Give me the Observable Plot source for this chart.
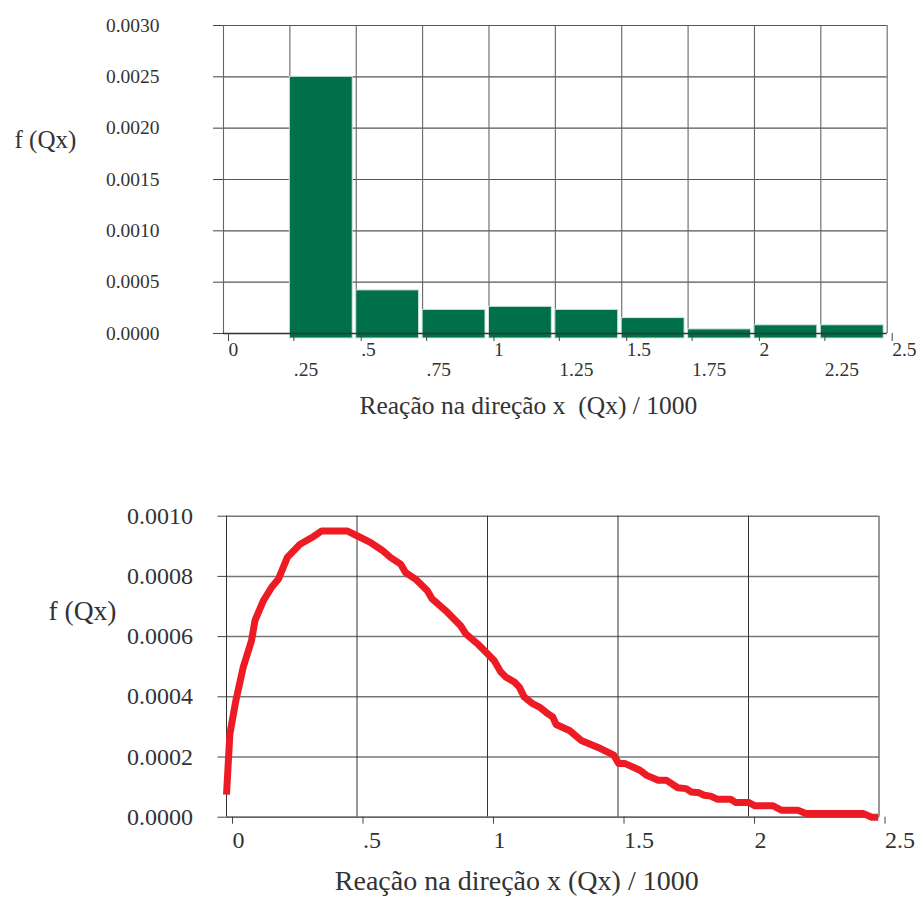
<!DOCTYPE html>
<html>
<head>
<meta charset="utf-8">
<script src="https://cdn.jsdelivr.net/npm/d3@7"></script>
<script src="https://cdn.jsdelivr.net/npm/@observablehq/plot@0.6"></script>
<style>
  html, body { margin: 0; padding: 0; background: #fff; }
  #wrap { position: relative; width: 918px; height: 898px; overflow: hidden; }
  #top, #bottom { position: absolute; left: 0; }
  #top { top: 0; }
  #bottom { top: 420px; }
</style>
</head>
<body>
<div id="wrap"><div id="top"></div><div id="bottom"></div></div>
<script>
// ---------- Data: top histogram ----------
const binLo   = [0.25, 0.5, 0.75, 1.0, 1.25, 1.5, 1.75, 2.0, 2.25];
const binHi   = [0.5, 0.75, 1.0, 1.25, 1.5, 1.75, 2.0, 2.25, 2.5];
const binDens = [0.0025, 0.00042, 0.00023, 0.00026, 0.00023, 0.00015, 0.00004, 0.00008, 0.00008];
const topYTicks = [0, 0.0005, 0.001, 0.0015, 0.002, 0.0025, 0.003];
const topXMajor = [0, 0.5, 1, 1.5, 2, 2.5];
const topXMinor = [0.25, 0.75, 1.25, 1.75, 2.25];
const topXGrid  = [0, 0.25, 0.5, 0.75, 1, 1.25, 1.5, 1.75, 2, 2.25, 2.5];

// ---------- Data: bottom density curve ----------
const curveX = [0.000, 0.013, 0.036, 0.064, 0.096, 0.109, 0.141, 0.173, 0.199, 0.233,
  0.282, 0.327, 0.365, 0.462, 0.500, 0.551, 0.596, 0.628, 0.667, 0.686,
  0.724, 0.769, 0.788, 0.846, 0.897, 0.917, 0.962, 1.000, 1.026, 1.051,
  1.071, 1.103, 1.122, 1.141, 1.173, 1.199, 1.231, 1.250, 1.263, 1.314,
  1.359, 1.433, 1.484, 1.503, 1.528, 1.584, 1.610, 1.654, 1.685, 1.729,
  1.761, 1.780, 1.811, 1.830, 1.855, 1.880, 1.931, 1.950, 2.000, 2.025,
  2.094, 2.126, 2.189, 2.220, 2.441, 2.472, 2.497];
const curveY = [0.000075, 0.000277, 0.000388, 0.000498, 0.000587, 0.000653, 0.000719, 0.000764, 0.000791, 0.000863,
  0.000907, 0.000929, 0.000951, 0.000951, 0.000935, 0.000913, 0.000887, 0.000863, 0.000841, 0.000813,
  0.000791, 0.000753, 0.000725, 0.000681, 0.000636, 0.000609, 0.000576, 0.000543, 0.000520, 0.000482,
  0.000465, 0.000449, 0.000432, 0.000399, 0.000377, 0.000366, 0.000344, 0.000333, 0.000308, 0.000288,
  0.000255, 0.000228, 0.000206, 0.000178, 0.000178, 0.000156, 0.000139, 0.000123, 0.000123, 0.000098,
  0.000095, 0.000084, 0.000081, 0.000073, 0.000070, 0.000060, 0.000060, 0.000049, 0.000049, 0.000038,
  0.000038, 0.000023, 0.000023, 0.000012, 0.000012, 0.000000, 0.000000];
const botYTicks = [0, 0.0002, 0.0004, 0.0006, 0.0008, 0.001];
const botXTicks = [0, 0.5, 1, 1.5, 2, 2.5];

const yLabel = "f (Qx)";
const xTitleTop = "Reação na direção x  (Qx) / 1000";
const xTitleBottom = "Reação na direção x (Qx) / 1000";

// ---------- helpers ----------
const bars = binLo.map((lo, i) => ({lo, hi: binHi[i], v: binDens[i]}));
const curve = curveX.map((x, i) => ({x, y: curveY[i]}));
const fmtX = d => d === 0 ? "0" : String(d).replace(/^0\./, ".");
const fmtY = d3.format(".4f");
const FONT = "'Liberation Serif', 'Times New Roman', Times, serif";

// ---------- top chart ----------
const topPlot = Plot.plot({
  width: 918,
  height: 420,
  marginLeft: 223,
  marginRight: 31.3,
  marginTop: 25,
  marginBottom: 87,
  style: {fontFamily: FONT, fontSize: "19.5px", color: "#333", background: "white", overflow: "visible"},
  x: {domain: [0, 2.5], label: null},
  y: {domain: [0, 0.003], label: null},
  marks: [
    Plot.gridY({ticks: topYTicks, stroke: "#555", strokeOpacity: 1, strokeWidth: 1.1}),
    Plot.gridX({ticks: topXGrid, stroke: "#666", strokeOpacity: 1, strokeWidth: 1.1}),
    Plot.rect(bars, {x1: "lo", x2: "hi", y1: () => 0, y2: "v", fill: "#00704A",
      stroke: "#cfe6d8", strokeWidth: 1, insetRight: 3.5, insetBottom: -5}),
    Plot.ruleY([0], {stroke: "#333", strokeWidth: 1.3}),
    Plot.axisY({ticks: topYTicks, tickFormat: fmtY, tickSize: 10, tickPadding: 54,
      stroke: "#444", fontSize: 19.5, label: null}),
    Plot.axisX({ticks: topXMajor, tickFormat: fmtX, tickSize: 8, tickPadding: 1,
      textAnchor: "start", dx: 5, stroke: "#444", fontSize: 19.5, label: null}),
    Plot.axisX({ticks: topXMinor, tickFormat: fmtX, tickSize: 8, tickPadding: 21,
      textAnchor: "start", dx: 4, stroke: "#444", fontSize: 19.5, label: null}),
    Plot.text([yLabel], {frameAnchor: "left", textAnchor: "start", lineAnchor: "middle",
      dx: -209, dy: -40, fontSize: 25, fill: "#333"}),
    Plot.text([xTitleTop], {frameAnchor: "bottom", textAnchor: "middle", lineAnchor: "bottom",
      dx: -27, dy: 80, fontSize: 25.5, fill: "#333"})
  ]
});
document.getElementById("top").appendChild(topPlot);

// ---------- bottom chart ----------
const botPlot = Plot.plot({
  width: 918,
  height: 478,
  marginLeft: 226,
  marginRight: 39.5,
  marginTop: 95.7,
  marginBottom: 81.3,
  style: {fontFamily: FONT, fontSize: "24px", color: "#333", background: "white", overflow: "visible"},
  x: {domain: [0, 2.5], label: null},
  y: {domain: [0, 0.001], label: null},
  marks: [
    Plot.gridY({ticks: botYTicks, stroke: "#777", strokeOpacity: 1, strokeWidth: 1.5}),
    Plot.gridX({ticks: botXTicks, stroke: "#333", strokeOpacity: 1, strokeWidth: 1}),
    Plot.ruleY([0], {stroke: "#666", strokeWidth: 1.5}),
    Plot.line(curve, {x: "x", y: "y", stroke: "#ED1C24", strokeWidth: 7,
      strokeLinejoin: "round", strokeLinecap: "butt"}),
    Plot.axisY({ticks: botYTicks, tickFormat: fmtY, tickSize: 8.5, tickPadding: 25,
      stroke: "#444", fontSize: 24, label: null}),
    Plot.axisX({ticks: botXTicks, tickFormat: fmtX, tickSize: 7, tickPadding: 7,
      textAnchor: "start", dx: 6, stroke: "#444", fontSize: 24, label: null}),
    Plot.text([yLabel], {frameAnchor: "left", textAnchor: "start", lineAnchor: "middle",
      dx: -178, dy: -56, fontSize: 27.5, fill: "#333"}),
    Plot.text([xTitleBottom], {frameAnchor: "bottom", textAnchor: "middle", lineAnchor: "bottom",
      dx: -36, dy: 73, fontSize: 28, fill: "#333"})
  ]
});
document.getElementById("bottom").appendChild(botPlot);
</script>
</body>
</html>
